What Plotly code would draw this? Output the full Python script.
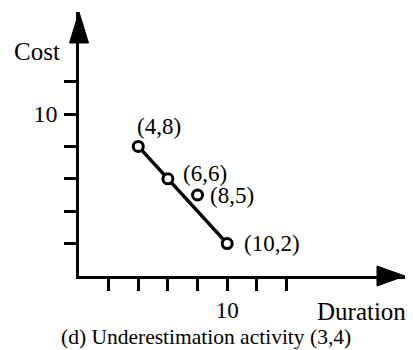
import plotly.graph_objects as go

# ---- data ----
line_x = [4, 6, 10]
line_y = [8, 6, 2]
extra_x = [8]
extra_y = [5]
label_points_x = [4, 6, 8, 10]
label_points_y = [8, 6, 5, 2]
x_tickvals = [2, 4, 6, 8, 10, 12, 14]
x_ticktext = ["", "", "", "", "10", "", ""]
y_tickvals = [2, 4, 6, 8, 10, 12]
y_ticktext = ["", "", "", "", "10", ""]
x_title = "Duration"
y_title = "Cost"
caption = "(d) Underestimation activity (3,4)"

# label offsets (styling)
label_xshift = [-3, 13, 10, 15]
label_yshift = [20, 5, 0, 0]

FONT = "Liberation Serif, Times New Roman, serif"

fig = go.Figure()
fig.add_trace(go.Scatter(
    x=line_x, y=line_y, mode="lines+markers",
    line=dict(color="black", width=3.5),
    marker=dict(symbol="circle", size=10, color="white",
                line=dict(color="black", width=3)),
    hoverinfo="skip", showlegend=False))
fig.add_trace(go.Scatter(
    x=extra_x, y=extra_y, mode="markers",
    marker=dict(symbol="circle", size=10, color="white",
                line=dict(color="black", width=3)),
    hoverinfo="skip", showlegend=False))

for px, py, dx, dy in zip(label_points_x, label_points_y, label_xshift, label_yshift):
    fig.add_annotation(x=px, y=py, text=f"({px},{py})", showarrow=False,
                       xanchor="left", yanchor="middle", xshift=dx, yshift=dy,
                       font=dict(family=FONT, size=23, color="black"))

fig.add_annotation(x=-0.129, y=0.85, xref="paper", yref="paper", text=y_title,
                   showarrow=False, xanchor="center", yanchor="middle",
                   font=dict(family=FONT, size=25, color="black"))
fig.add_annotation(x=1.009, y=-0.135, xref="paper", yref="paper", text=x_title,
                   showarrow=False, xanchor="right", yanchor="middle",
                   font=dict(family=FONT, size=25, color="black"))
fig.add_annotation(x=0.39, y=-0.232, xref="paper", yref="paper", text=caption,
                   showarrow=False, xanchor="center", yanchor="middle",
                   font=dict(family=FONT, size=21.5, color="black"))

# arrowheads
fig.add_shape(type="path", xref="paper", yref="paper", xsizemode="pixel", ysizemode="pixel",
              xanchor=1, yanchor=0, path="M-28,-10 L-28,10 L0,0 Z",
              fillcolor="black", line=dict(color="black", width=1))
fig.add_shape(type="path", xref="paper", yref="paper", xsizemode="pixel", ysizemode="pixel",
              xanchor=0, yanchor=1, path="M-9.5,-31 L9.5,-31 L0,0 Z",
              fillcolor="black", line=dict(color="black", width=1))

fig.update_xaxes(range=[0, 22], showgrid=False, zeroline=False,
                 showline=True, linecolor="black", linewidth=2.5,
                 ticks="outside", ticklen=12, tickwidth=2.5, tickcolor="black",
                 tickvals=x_tickvals, ticktext=x_ticktext, ticklabelstandoff=0,
                 tickfont=dict(family=FONT, size=23, color="black"))
fig.update_yaxes(range=[0, 16.3], showgrid=False, zeroline=False,
                 showline=True, linecolor="black", linewidth=2.5,
                 ticks="outside", ticklen=12, tickwidth=2.5, tickcolor="black",
                 tickvals=y_tickvals, ticktext=y_ticktext, ticklabelstandoff=2,
                 tickfont=dict(family=FONT, size=24, color="black"))

fig.update_layout(width=413, height=350, margin=dict(l=79, r=8, t=12, b=74),
                  paper_bgcolor="white", plot_bgcolor="white")
fig.write_html("out.html", config={"displayModeBar": False})
